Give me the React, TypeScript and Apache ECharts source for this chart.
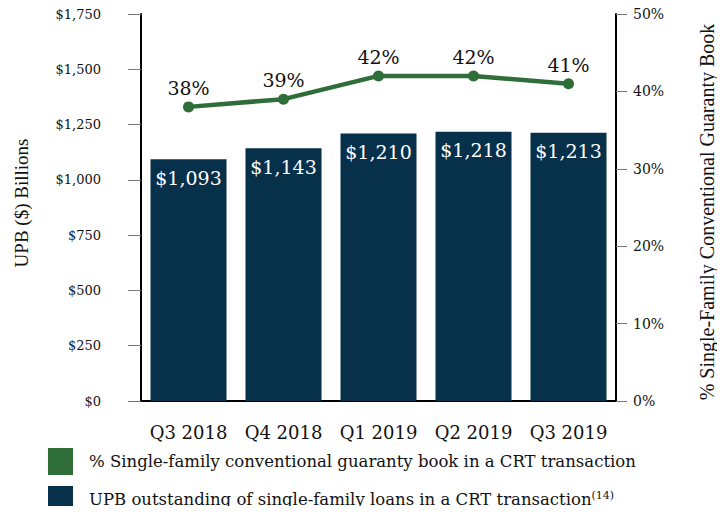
import React, { useEffect, useRef } from "react";
import * as echarts from "echarts";

const categories = ["Q3 2018", "Q4 2018", "Q1 2019", "Q2 2019", "Q3 2019"];
const upbValues = [1093, 1143, 1210, 1218, 1213];
const pctValues = [38, 39, 42, 42, 41];
const legendPct = "% Single-family conventional guaranty book in a CRT transaction";
const legendUpb = "UPB outstanding of single-family loans in a CRT transaction";
const leftTitle = "UPB ($) Billions";
const rightTitle = "% Single-Family Conventional Guaranty Book";

const FONT = "DejaVu Serif";
const TITLE_FONT = "Liberation Serif";
const NAVY = "#07304b";
const GREEN = "#2f6e38";

const legendBase = {
  orient: "horizontal",
  left: 48,
  padding: 0,
  itemWidth: 25,
  itemHeight: 27,
  icon: "rect",
  selectedMode: false,
  textStyle: {
    fontFamily: FONT,
    fontSize: 16.5,
    color: "#111",
    padding: [0, 0, 0, 11],
    rich: {
      sup: { fontSize: 11, verticalAlign: "top", padding: [0, 0, 8, 0], fontFamily: FONT, color: "#111" },
    },
  },
};

export default function App() {
  const ref = useRef<HTMLDivElement>(null);
  useEffect(() => {
    if (!ref.current) return;
    const chart = echarts.init(ref.current, null, { renderer: "svg" });
    chart.setOption({
      animation: false,
      textStyle: { fontFamily: FONT },
      grid: { left: 141, right: 109, top: 14, bottom: 113 },
      graphic: [
        {
          type: "text",
          x: 21,
          y: 203,
          rotation: Math.PI / 2,
          style: {
            text: leftTitle,
            fontFamily: TITLE_FONT,
            fontSize: 19,
            fill: "#111",
            align: "center",
            verticalAlign: "middle",
          },
        },
        {
          type: "text",
          x: 707,
          y: 212,
          rotation: Math.PI / 2,
          style: {
            text: rightTitle,
            fontFamily: TITLE_FONT,
            fontSize: 20,
            fill: "#111",
            align: "center",
            verticalAlign: "middle",
          },
        },
      ],
      legend: [
        { ...legendBase, top: 448, data: [legendPct] },
        {
          ...legendBase,
          top: 486,
          data: [legendUpb],
          formatter: (name: string) => name + "{sup|(14)}",
        },
      ],
      xAxis: {
        type: "category",
        data: categories,
        axisLine: { lineStyle: { color: "#000", width: 2 } },
        axisTick: { show: false },
        axisLabel: { fontFamily: FONT, fontSize: 18, color: "#111", margin: 22, interval: 0 },
      },
      yAxis: [
        {
          type: "value",
          min: 0,
          max: 1750,
          interval: 250,
          axisLine: { show: true, lineStyle: { color: "#000", width: 2 } },
          axisTick: { show: true, length: 13, lineStyle: { color: "#777", width: 1 } },
          splitLine: { show: false },
          axisLabel: {
            fontFamily: FONT,
            fontSize: 13,
            color: "#111",
            margin: 40,
            formatter: (v: number) => "$" + v.toLocaleString("en-US"),
          },
        },
        {
          type: "value",
          min: 0,
          max: 50,
          interval: 10,
          position: "right",
          axisLine: { show: true, lineStyle: { color: "#000", width: 2 } },
          axisTick: { show: true, length: 11, lineStyle: { color: "#777", width: 1 } },
          splitLine: { show: false },
          axisLabel: { fontFamily: FONT, fontSize: 14, color: "#111", margin: 17, formatter: "{value}%" },
        },
      ],
      series: [
        {
          name: legendUpb,
          type: "bar",
          data: upbValues,
          barWidth: "80%",
          itemStyle: { color: NAVY },
          label: {
            show: true,
            position: "insideTop",
            distance: 9,
            color: "#fff",
            fontFamily: FONT,
            fontSize: 19,
            formatter: (p: any) => "$" + Number(p.value).toLocaleString("en-US"),
          },
        },
        {
          name: legendPct,
          type: "line",
          yAxisIndex: 1,
          data: pctValues,
          lineStyle: { color: GREEN, width: 4.5 },
          itemStyle: { color: GREEN },
          symbol: "circle",
          symbolSize: 11,
          label: {
            show: true,
            position: "top",
            distance: 4,
            color: "#111",
            fontFamily: FONT,
            fontSize: 19,
            formatter: "{c}%",
          },
        },
      ],
    });
    return () => chart.dispose();
  }, []);
  return <div ref={ref} style={{ width: 725, height: 514, margin: -8 }} />;
}
